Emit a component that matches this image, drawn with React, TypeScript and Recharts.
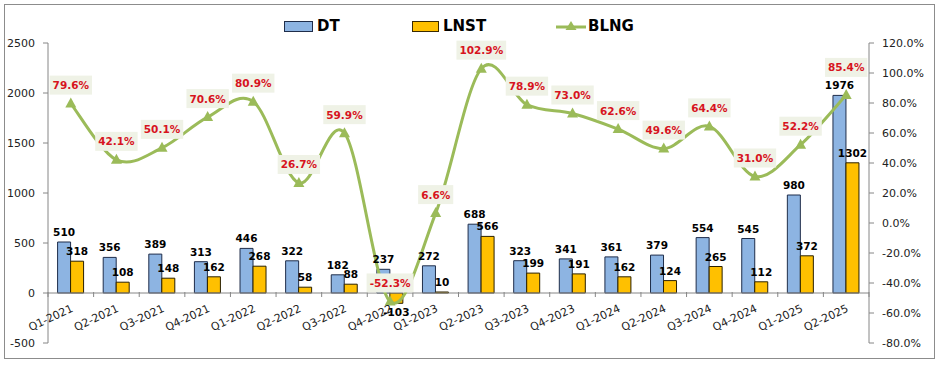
import React from "react"
import { ComposedChart, Bar, Line, XAxis, YAxis, ReferenceLine, LabelList } from "recharts"

// Quarterly revenue (DT), net profit (LNST) and growth rate (BLNG)
const quarters = [
  "Q1-2021", "Q2-2021", "Q3-2021", "Q4-2021", "Q1-2022", "Q2-2022", "Q3-2022", "Q4-2022", "Q1-2023",
  "Q2-2023", "Q3-2023", "Q4-2023", "Q1-2024", "Q2-2024", "Q3-2024", "Q4-2024", "Q1-2025", "Q2-2025",
]
const dtValues = [510, 356, 389, 313, 446, 322, 182, 237, 272, 688, 323, 341, 361, 379, 554, 545, 980, 1976]
const lnstValues = [318, 108, 148, 162, 268, 58, 88, -103, 10, 566, 199, 191, 162, 124, 265, 112, 372, 1302]
const blngValues = [79.6, 42.1, 50.1, 70.6, 80.9, 26.7, 59.9, -52.3, 6.6, 102.9, 78.9, 73.0, 62.6, 49.6, 64.4, 31.0, 52.2, 85.4]
const leftTicks = [-500, 0, 500, 1000, 1500, 2000, 2500]
const rightTicks = [-80, -60, -40, -20, 0, 20, 40, 60, 80, 100, 120]

const data = quarters.map((quarter, i) => ({
  quarter,
  DT: dtValues[i],
  LNST: lnstValues[i],
  BLNG: blngValues[i],
}))

const W = 939
const H = 365
const LEFT_W = 48
const RIGHT_W = 70
const TOP = 43
const BOTTOM = 21
const PLOT_W = W - LEFT_W - RIGHT_W
const PLOT_H = H - TOP - BOTTOM - 1
const BAND = PLOT_W / quarters.length
// the category axis crosses the value axis at 0
const ZERO_SHIFT = (PLOT_H * (0 - leftTicks[0])) / (leftTicks[leftTicks.length - 1] - leftTicks[0])

const AXIS = "#868686"
const BLUE = "#8DB4E2"
const GOLD = "#FFC000"
const GREEN = "#9BBB59"
const RED = "#D7141E"
const FONT = "DejaVu Sans, Verdana, sans-serif"

// Excel-style smoothed line (catmull-rom bezier)
function excelSmooth(context: any) {
  let pts: number[][] = []
  return {
    areaStart() {},
    areaEnd() {},
    lineStart() {
      pts = []
    },
    point(x: number, y: number) {
      pts.push([+x, +y])
    },
    lineEnd() {
      if (!pts.length) return
      context.moveTo(pts[0][0], pts[0][1])
      for (let i = 0; i < pts.length - 1; i++) {
        const p0 = pts[i - 1] || pts[i]
        const p1 = pts[i]
        const p2 = pts[i + 1]
        const p3 = pts[i + 2] || p2
        context.bezierCurveTo(
          p1[0] + (p2[0] - p0[0]) / 6,
          p1[1] + (p2[1] - p0[1]) / 6,
          p2[0] - (p3[0] - p1[0]) / 6,
          p2[1] - (p3[1] - p1[1]) / 6,
          p2[0],
          p2[1]
        )
      }
    },
  }
}

function QuarterTick(props: any) {
  const { x, y, payload, index } = props
  const y0 = y - 1 - ZERO_SHIFT
  const tx = x + 3
  const ty = y0 + 19
  return (
    <g>
      <line x1={x - BAND / 2} x2={x - BAND / 2} y1={y0} y2={y0 + 5} stroke={AXIS} />
      {index === quarters.length - 1 && (
        <line x1={x + BAND / 2} x2={x + BAND / 2} y1={y0} y2={y0 + 5} stroke={AXIS} />
      )}
      <text
        x={tx}
        y={ty}
        textAnchor="end"
        transform={`rotate(-25 ${tx} ${ty})`}
        fontFamily={FONT}
        fontSize={11}
        fill="#222"
      >
        {payload.value}
      </text>
    </g>
  )
}

function BarValueLabel(props: any) {
  const { x, y, width, height, value } = props
  const top = Math.min(y, y + height)
  const bottom = Math.max(y, y + height)
  const ty = value < 0 ? bottom + 13 : top - 6
  return (
    <text x={x + width / 2} y={ty} textAnchor="middle" fontFamily={FONT} fontWeight="bold" fontSize={10.5} fill="#000">
      {value}
    </text>
  )
}

function RateLabel(props: any) {
  const { x, y, value, index } = props
  const text = `${Number(value).toFixed(1)}%`
  const digits = text.replace(/[^0-9]/g, "").length
  const w = digits * 7.3 + 4 + 10.5 + (value < 0 ? 4.6 : 0) + 6
  // the last label sits higher so it clears the bar value under it
  const lift = index === quarters.length - 1 ? 9 : 0
  return (
    <g>
      <rect x={x - w / 2} y={y - 28 - lift} width={w} height={19} fill="#EFF2E6" />
      <text
        x={x}
        y={y - 14.5 - lift}
        textAnchor="middle"
        fontFamily={FONT}
        fontWeight="bold"
        fontSize={10.5}
        fill={RED}
      >
        {text}
      </text>
    </g>
  )
}

function TriangleDot(props: any) {
  const { cx, cy } = props
  if (cx == null || cy == null) return null
  return <path d={`M${cx},${cy - 6} L${cx + 5.5},${cy + 4} L${cx - 5.5},${cy + 4} Z`} fill={GREEN} />
}

function ChartLegend() {
  const text = { fontFamily: FONT, fontWeight: "bold" as const, fontSize: 15, color: "#000", marginLeft: 4 }
  const item = { position: "absolute" as const, top: 17, display: "flex", alignItems: "center", height: 18 }
  return (
    <>
      <div style={{ ...item, left: 284 }}>
        <span style={{ width: 27, height: 9, background: BLUE, border: "1px solid #1F2D4A" }} />
        <span style={text}>DT</span>
      </div>
      <div style={{ ...item, left: 412 }}>
        <span style={{ width: 25, height: 9, background: GOLD, border: "1px solid #3A2A00" }} />
        <span style={text}>LNST</span>
      </div>
      <div style={{ ...item, left: 556 }}>
        <svg width={30} height={12}>
          <line x1={0} x2={30} y1={7} y2={7} stroke={GREEN} strokeWidth={3} />
          <path d="M15,1 L20.5,10 L9.5,10 Z" fill={GREEN} />
        </svg>
        <span style={{ ...text, marginLeft: 2 }}>BLNG</span>
      </div>
    </>
  )
}

export default function App() {
  return (
    <div style={{ position: "relative", width: W, height: H, background: "#fff" }}>
      <style>{"body{margin:0}"}</style>
      <ComposedChart
        width={W}
        height={H}
        data={data}
        margin={{ top: TOP, right: 0, bottom: BOTTOM, left: 0 }}
        barCategoryGap="21%"
        barGap={0}
      >
        <XAxis
          dataKey="quarter"
          xAxisId="cat"
          height={1}
          axisLine={false}
          tickLine={false}
          tickSize={0}
          tickMargin={0}
          interval={0}
          tick={<QuarterTick />}
        />
        <YAxis
          yAxisId="left"
          width={LEFT_W}
          domain={[leftTicks[0], leftTicks[leftTicks.length - 1]]}
          ticks={leftTicks}
          interval={0}
          stroke={AXIS}
          tickSize={5}
          tickMargin={8}
          tick={{ fontFamily: FONT, fontSize: 11, fill: "#222" }}
        />
        <YAxis
          yAxisId="right"
          orientation="right"
          width={RIGHT_W}
          domain={[rightTicks[0], rightTicks[rightTicks.length - 1]]}
          ticks={rightTicks}
          interval={0}
          stroke={AXIS}
          tickSize={5}
          tickMargin={8}
          tickFormatter={(v: number) => `${v.toFixed(1)}%`}
          tick={{ fontFamily: FONT, fontSize: 11, fill: "#222" }}
        />
        <ReferenceLine y={0} yAxisId="left" xAxisId="cat" stroke={AXIS} />
        <Bar dataKey="DT" xAxisId="cat" yAxisId="left" fill={BLUE} stroke="#1F2D4A" strokeWidth={1} isAnimationActive={false}>
          <LabelList dataKey="DT" content={<BarValueLabel />} />
        </Bar>
        <Bar dataKey="LNST" xAxisId="cat" yAxisId="left" fill={GOLD} stroke="#2A2000" strokeWidth={1} isAnimationActive={false}>
          <LabelList dataKey="LNST" content={<BarValueLabel />} />
        </Bar>
        <Line
          dataKey="BLNG"
          xAxisId="cat"
          yAxisId="right"
          type={excelSmooth as any}
          stroke={GREEN}
          strokeWidth={3}
          dot={<TriangleDot />}
          activeDot={false}
          isAnimationActive={false}
        >
          <LabelList dataKey="BLNG" content={<RateLabel />} />
        </Line>
      </ComposedChart>
      <ChartLegend />
      <div
        style={{
          position: "absolute",
          left: 4,
          top: 4,
          width: 929,
          height: 353,
          border: "1px solid #8C8C8C",
          pointerEvents: "none",
        }}
      />
    </div>
  )
}
